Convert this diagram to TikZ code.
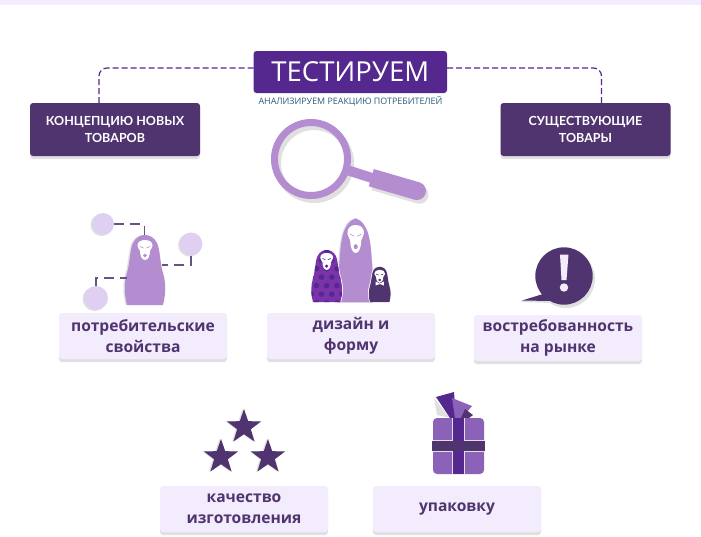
\documentclass[tikz,border=0pt]{standalone}
\usepackage{fontspec}
\setmainfont{Lato}
\newfontfamily\titlefont{Open Sans}
\definecolor{MyViolet}{HTML}{55288F}
\definecolor{MyPlum}{HTML}{50346F}
\definecolor{MyLilac}{HTML}{B48CD0}
\definecolor{MyPale}{HTML}{F3ECFD}
\definecolor{MyCircle}{HTML}{DFD0F2}
\definecolor{MyGift}{HTML}{8B62B8}
\definecolor{MyDash}{HTML}{6B5285}
\definecolor{MyShade}{HTML}{E0E0E0}
\definecolor{MySub}{HTML}{2A5A7A}
\definecolor{MyDotted}{HTML}{7A33A8}
\usetikzlibrary{shadows, shapes.geometric}
\newcommand{\dollpath}{(-18,70) .. controls (-21,58) and (-21,48) .. (-18,38) .. controls (-15,28) and (-15,14) .. (-12,8) .. controls (-9,2) and (-4,0) .. (0,0) .. controls (4,0) and (9,2) .. (12,8) .. controls (15,14) and (15,28) .. (18,38) .. controls (21,48) and (21,58) .. (18,70) -- cycle}
\tikzset{
	darkbox/.style={fill=MyPlum, text=white, rounded corners=3, minimum width=170, minimum height=53, inner sep=0, align=center, font=\bfseries\fontsize{12.5}{17}\selectfont, drop shadow={shadow xshift=0pt, shadow yshift=-3pt, fill=MyShade, opacity=1}},
	labelbox/.style={fill=MyPale, text=MyPlum, rounded corners=3, minimum width=168, minimum height=46, inner sep=0, align=center, font=\titlefont\bfseries\fontsize{15.6}{21}\selectfont, drop shadow={shadow xshift=0pt, shadow yshift=-3pt, fill=MyShade, opacity=1}},
	dashlink/.style={MyViolet, line width=1.2, dash pattern=on 6 off 3, rounded corners=8},
	dotlink/.style={MyDash, line width=1.8, dash pattern=on 10 off 6},
	bubble/.style={circle, fill=MyCircle, inner sep=0, minimum size=#1},
	starmark/.style={star, star points=5, star point ratio=2.5, fill=#1, inner sep=0, minimum size=36},
	pics/doll/.style={code={
		\fill[pic actions] \dollpath;
	}},
	pics/robe/.style={code={
		\fill[pic actions] (-17.5,84) .. controls (-18.5,70) and (-17.5,58) .. (-16,40) .. controls (-15,24) and (-13,4) .. (0,0) .. controls (13,4) and (15,24) .. (16,40) .. controls (17.5,58) and (18.5,70) .. (17.5,84) -- cycle;
	}},
	pics/face/.style={code={
		\fill[white] (0,9) .. controls (4,9) and (8,11) .. (7.5,15) .. controls (7.5,17) and (5.5,18) .. (5,20) .. controls (5,25) and (3,29) .. (0,29) .. controls (-3,29) and (-5,25) .. (-5,20) .. controls (-5.5,18) and (-7.5,17) .. (-7.5,15) .. controls (-8,11) and (-4,9) .. (0,9) -- cycle;
		\fill[pic actions] (0,24.5) circle (1.6);
		\draw[pic actions, line width=.5] (-5,15.5) -- (-1.5,17) (5,15.5) -- (1.5,17);
	}}
}

\begin{document}
\begin{tikzpicture}[x=1pt, y=-1pt]
	\useasboundingbox (0,0) rectangle (701,536);
	\fill[MyPale] (0,0) rectangle (701,4.5);

	% top row
	\node[fill=MyViolet, text=white, rounded corners=3, minimum width=193.5, minimum height=42, inner sep=0, font=\titlefont\fontsize{27.5}{30}\selectfont] (title) at (350.3,72) {\raisebox{-2pt}{ТЕСТИРУЕМ}};
	\node[text=MySub, inner sep=0, font=\titlefont\fontsize{8.9}{10}\selectfont] (subtitle) at (350.5,101.5) {АНАЛИЗИРУЕМ РЕАКЦИЮ ПОТРЕБИТЕЛЕЙ};
	\node[darkbox] (newgoods) at (115,129.5) {КОНЦЕПЦИЮ НОВЫХ\\ТОВАРОВ};
	\node[darkbox] (oldgoods) at (585.5,129.5) {СУЩЕСТВУЮЩИЕ\\ТОВАРЫ};

	\coordinate (titleL) at (253.5,68);
	\coordinate (titleR) at (447,68);
	\coordinate (dropL) at (99,103);
	\coordinate (dropR) at (601.5,103);
	\draw[dashlink] (titleL) -| (dropL);
	\draw[dashlink] (titleR) -| (dropR);

	% magnifier
	\draw[MyShade, line width=7] (314,163) circle (36.5);
	\draw[MyShade, line width=18] (374,181.5) -- (419.5,194.8);
	\fill[MyShade] (419.5,194.8) circle (9);
	\draw[MyLilac, line width=10] (348.5,170.5) -- (372,178);
	\draw[MyLilac, line width=18] (371.3,177.7) -- (417,191);
	\fill[MyLilac] (417,191) circle (9);
	\draw[MyLilac, line width=7] (311,159) circle (36.5);

	% first doll with its bubbles
	\pic[fill=MyShade] at (143.5,235) {doll};
	\pic[fill=MyLilac] at (145,235) {doll};
	\pic[fill=MyLilac, draw=MyLilac] at (145,231) {face};
	\coordinate (dollTop) at (144.5,235);
	\coordinate (dollR) at (162,265);
	\coordinate (dollL) at (127,278);
	\fill[MyShade] (101.5,225) circle (11);
	\fill[MyShade] (189.5,245) circle (11.5);
	\fill[MyShade] (94.5,299) circle (12);
	\node[bubble=22] (bubbleA) at (103,224) {};
	\node[bubble=23] (bubbleB) at (191,244) {};
	\node[bubble=24] (bubbleC) at (96,298) {};
	\draw[dotlink] (bubbleA.east) -| (dollTop);
	\draw[dotlink] (bubbleB.south) |- (dollR);
	\draw[dotlink] (bubbleC.north) |- (dollL);

	% three dolls
	\pic[fill=MyShade] at (354.5,218.3) {robe};
	\pic[fill=MyLilac] at (355.7,218.3) {robe};
	\pic[fill=MyLilac, draw=MyLilac, xscale=1.1, yscale=1.4] at (355.7,212.4) {face};
	\pic[fill=white, xscale=.8, yscale=.76] at (326.7,249) {doll};
	\begin{scope}[shift={(326.7,250)}, xscale=.76, yscale=.743]
		\clip \dollpath;
		\fill[MyDotted] (-30,-5) rectangle (30,75);
		\foreach \row in {-1,...,6} {
			\foreach \col in {-2,...,2} {
				\fill[MyViolet] ({\col*13.5+mod(\row+6,2)*6.7},{\row*11.5+2}) circle (3.7);
			}
		}
	\end{scope}
	\pic[fill=MyViolet, draw=MyViolet, xscale=.85, yscale=.85] at (326.7,245.3) {face};
	\pic[fill=white, xscale=.58, yscale=.52] at (379.7,265.5) {doll};
	\pic[fill=MyPlum, xscale=.54, yscale=.507] at (379.7,266.7) {doll};
	\pic[fill=MyPlum, draw=MyPlum, xscale=.72, yscale=.65] at (379.7,264) {face};
	\fill[white] (375.5,281.5) -- (379.7,283.5) -- (383.9,281.5) -- (383.9,285.5) -- (379.7,284) -- (375.5,285.5) -- cycle;

	% speech bubble
	\fill[MyShade] (566,279) circle (29);
	\fill[MyPlum] (564,276) circle (28.7);
	\fill[MyShade] (520,302) -- (543,296) -- (552,303) -- cycle;
	\fill[MyPlum] (522,300.5) -- (543,294) -- (552,301) -- cycle;
	\fill[MyPale] (560,254.5) -- (568.5,254.5) -- (566.5,280) -- (561.5,280) -- cycle;
	\fill[MyPale] (564,287.5) circle (4.2);

	% stars
	\node[starmark=MyShade] (starAs) at (242.5,427) {};
	\node[starmark=MyShade] (starBs) at (219.5,457) {};
	\node[starmark=MyShade] (starCs) at (266.5,457) {};
	\node[starmark=MyPlum] (starA) at (244,427) {};
	\node[starmark=MyPlum] (starB) at (221,457) {};
	\node[starmark=MyPlum] (starC) at (268,457) {};

	% gift
	\fill[MyShade] (434,398) -- (437,415) -- (450,418) -- cycle;
	\fill[MyViolet] (436,397) -- (454,392) -- (456,418) -- (450,418) -- cycle;
	\fill[MyGift] (452,398) -- (472,406) -- (462,418) -- (455,418) -- cycle;
	\fill[MyPlum] (461,418) -- (465,409) -- (473,415) -- (469,418) -- cycle;
	\fill[MyGift, rounded corners=4] (433,418) rectangle (484,474);
	\draw[MyShade, line width=.5] (452.5,418) -- (452.5,474) (464.5,418) -- (464.5,474) (433,440.5) -- (484,440.5) (433,451.5) -- (484,451.5);
	\fill[MyViolet] (453,418) rectangle (464,474);
	\fill[MyPlum] (432,441) rectangle (485,451);

	% labels
	\node[labelbox] (props) at (143,336) {\raisebox{-1pt}{потребительские}\\\raisebox{-1pt}{свойства}};
	\node[labelbox] (design) at (351,336) {\raisebox{-1pt}{дизайн и}\\\raisebox{-1pt}{форму}};
	\node[labelbox] (demand) at (558,338) {\raisebox{-1pt}{востребованность}\\\raisebox{-1pt}{на рынке}};
	\node[labelbox] (quality) at (244,509) {\raisebox{-1pt}{качество}\\\raisebox{-1pt}{изготовления}};
	\node[labelbox] (wrap) at (457,509) {упаковку};
\end{tikzpicture}
\end{document}
